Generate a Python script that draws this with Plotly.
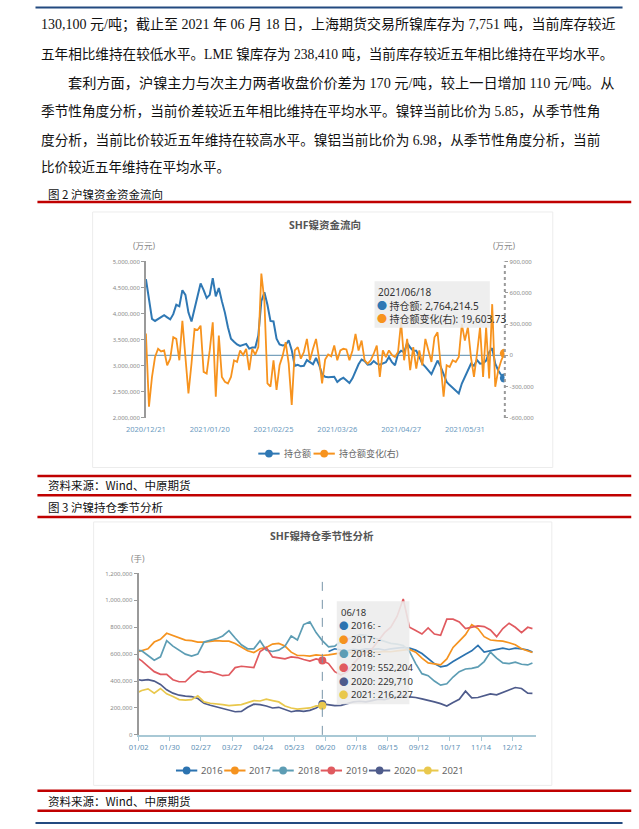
import plotly.graph_objects as go
import pandas as pd

W, H = 639, 829
def PX(x): return x / W
def PY(y): return 1 - y / H

# ---------------- 图2 data: SHF镍资金流向 (万元) ----------------
holidays_2021 = ["2021-01-01", "2021-02-11", "2021-02-12", "2021-02-15", "2021-02-16",
                 "2021-02-17", "2021-04-05", "2021-05-03", "2021-05-04", "2021-05-05", "2021-06-14"]
trade_dates = [d.strftime("%Y/%m/%d") for d in pd.bdate_range("2020-12-21", "2021-06-18")
               if d.strftime("%Y-%m-%d") not in holidays_2021]

hold_amount = [  # 持仓额
    4.66e6, 4.24e6, 3.90e6, 3.86e6, 3.90e6, 3.93e6, 3.97e6, 3.93e6, 3.89e6, 3.99e6,
    4.17e6, 4.14e6, 4.45e6, 4.36e6, 4.02e6, 3.85e6, 4.08e6, 4.36e6, 4.58e6, 4.45e6,
    4.30e6, 4.36e6, 4.68e6, 4.33e6, 4.49e6, 4.24e6, 4.02e6, 3.74e6, 3.52e6, 3.46e6,
    3.41e6, 3.38e6, 3.40e6, 3.42e6, 3.33e6, 3.35e6, 3.35e6, 3.58e6, 4.24e6, 4.41e6,
    4.17e6, 3.86e6, 3.85e6, 3.52e6, 3.41e6, 3.39e6, 3.40e6, 3.49e6, 3.30e6, 3.00e6,
    3.02e6, 2.99e6, 3.00e6, 3.11e6, 3.07e6, 3.03e6, 3.15e6, 3.02e6, 2.84e6, 2.79e6,
    2.78e6, 2.78e6, 2.79e6, 2.69e6, 2.74e6, 2.77e6, 2.72e6, 2.67e6, 2.76e6, 2.91e6,
    3.03e6, 3.12e6, 3.09e6, 3.02e6, 3.03e6, 3.09e6, 3.04e6, 3.02e6, 3.04e6, 3.07e6,
    3.17e6, 3.07e6, 3.01e6, 3.23e6, 3.29e6, 3.26e6, 3.44e6, 3.35e6, 3.29e6, 3.29e6,
    3.17e6, 3.04e6, 2.98e6, 2.90e6, 2.84e6, 2.97e6, 3.10e6, 2.99e6, 2.82e6, 2.69e6,
    2.63e6, 2.57e6, 2.52e6, 2.47e6, 2.66e6, 2.79e6, 2.91e6, 3.04e6, 3.00e6, 3.11e6,
    3.04e6, 3.05e6, 3.10e6, 3.26e6, 3.34e6, 3.04e6, 2.91e6, 2.82e6, 2764214.5]

hold_change = [  # 持仓额变化(右)
    209e3, -491e3, -206e3, -16e3, 63e3, 38e3, 47e3, -95e3, -32e3, 174e3, 158e3, -47e3,
    332e3, -47e3, -364e3, -79e3, 253e3, 243e3, 285e3, -158e3, -174e3, 47e3, 316e3, -396e3,
    190e3, -206e3, -253e3, -269e3, -206e3, -47e3, -63e3, 47e3, 4e3, 63e3, -142e3, 63e3,
    6e3, 79e3, 785e3, 522e3, -269e3, -300e3, -47e3, -332e3, -95e3, -5e3, 127e3, -79e3,
    -475e3, 47e3, 79e3, -32e3, 32e3, 158e3, -47e3, 63e3, 158e3, -32e3, -269e3, -40e3,
    9e3, -9e3, 95e3, -47e3, 47e3, 63e3, 57e3, -47e3, 47e3, 206e3, 47e3, 142e3,
    -47e3, -79e3, -47e3, 16e3, 95e3, -206e3, 47e3, -16e3, 47e3, 3e3, -16e3, 32e3,
    316e3, -47e3, 158e3, -142e3, 79e3, -127e3, 47e3, -95e3, 158e3, 47e3, -63e3, 174e3,
    222e3, -79e3, -396e3, -95e3, -111e3, -47e3, -63e3, -16e3, 300e3, 142e3, 269e3, -16e3,
    -206e3, 16e3, 269e3, -206e3, 269e3, -222e3, 491e3, -301e3, -142e3, -47e3, 19603.73]

# ---------------- 图3 data: SHF镍持仓季节性分析 (手) ----------------
season_ticks = ["01/02", "01/30", "02/27", "03/27", "04/24", "05/23", "06/20",
                "07/18", "08/15", "09/12", "10/17", "11/14", "12/12"]
day_idx = [0] + [2 + 4 * k for k in range(63)] + [253]   # trading-day index within year
day_idx_2016 = day_idx[31:]
day_idx_2021 = day_idx[:31]
hover_pos = 30   # position of 06/18 in day_idx

s2016 = [620e3, 640e3, 630e3, 625e3, 635e3, 630e3, 640e3, 635e3, 640e3, 630e3,
         640e3, 645e3, 650e3, 645e3, 630e3, 605e3, 565e3, 530e3, 505e3, 515e3,
         545e3, 575e3, 600e3, 625e3, 665e3, 615e3, 625e3, 630e3, 645e3, 635e3,
         645e3, 640e3, 630e3, 615e3]
s2017 = [620e3,
         625e3, 640e3, 690e3, 710e3, 755e3, 740e3, 725e3, 705e3, 700e3, 690e3,
         690e3, 695e3, 700e3, 697e3, 697e3, 680e3, 650e3, 625e3, 612e3, 640e3,
         650e3, 675e3, 680e3, 660e3, 615e3, 590e3, 590e3, 585e3, 595e3, 590e3,
         595e3, 605e3, 610e3, 615e3, 610e3, 615e3, 612e3, 618e3, 615e3, 620e3,
         618e3, 625e3, 630e3, 635e3, 615e3, 570e3, 535e3, 525e3, 520e3, 565e3,
         650e3, 697e3, 745e3, 820e3, 790e3, 730e3, 705e3, 700e3, 697e3, 685e3,
         670e3, 640e3, 625e3, 612e3]
s2018 = [628e3,
         625e3, 590e3, 555e3, 580e3, 700e3, 660e3, 630e3, 600e3, 585e3, 600e3,
         690e3, 700e3, 715e3, 735e3, 775e3, 720e3, 670e3, 640e3, 640e3, 700e3,
         630e3, 620e3, 630e3, 660e3, 735e3, 705e3, 820e3, 840e3, 760e3, 700e3,
         655e3, 660e3, 695e3, 710e3, 730e3, 745e3, 740e3, 725e3, 705e3, 690e3,
         680e3, 675e3, 665e3, 620e3, 530e3, 455e3, 440e3, 400e3, 370e3, 380e3,
         430e3, 470e3, 490e3, 495e3, 505e3, 545e3, 615e3, 570e3, 535e3, 530e3,
         540e3, 525e3, 520e3, 535e3]
s2019 = [565e3,
         550e3, 510e3, 470e3, 450e3, 450e3, 410e3, 395e3, 395e3, 440e3, 476e3,
         465e3, 470e3, 455e3, 440e3, 445e3, 500e3, 510e3, 505e3, 500e3, 620e3,
         650e3, 580e3, 570e3, 565e3, 580e3, 575e3, 560e3, 548e3, 565e3, 552204,
         530e3, 470e3, 445e3, 470e3, 530e3, 580e3, 615e3, 640e3, 700e3, 760e3,
         800e3, 880e3, 1010e3, 800e3, 775e3, 750e3, 795e3, 750e3, 740e3, 860e3,
         860e3, 840e3, 790e3, 800e3, 810e3, 805e3, 780e3, 730e3, 790e3, 830e3,
         800e3, 760e3, 800e3, 790e3]
s2020 = [410e3,
         405e3, 410e3, 400e3, 375e3, 335e3, 310e3, 295e3, 288e3, 285e3, 270e3,
         235e3, 220e3, 208e3, 198e3, 188e3, 172e3, 175e3, 205e3, 228e3, 225e3,
         215e3, 200e3, 205e3, 190e3, 172e3, 180e3, 175e3, 182e3, 200e3, 229710,
         222e3, 218e3, 220e3, 235e3, 245e3, 250e3, 245e3, 255e3, 265e3, 262e3,
         275e3, 280e3, 292e3, 282e3, 278e3, 268e3, 258e3, 245e3, 232e3, 215e3,
         240e3, 265e3, 325e3, 275e3, 278e3, 290e3, 305e3, 298e3, 315e3, 330e3,
         352e3, 345e3, 310e3, 308e3]
s2021 = [318e3,
         330e3, 342e3, 310e3, 345e3, 305e3, 285e3, 262e3, 258e3, 262e3, 290e3,
         245e3, 235e3, 232e3, 225e3, 218e3, 222e3, 225e3, 240e3, 255e3, 252e3,
         265e3, 255e3, 245e3, 215e3, 200e3, 192e3, 195e3, 200e3, 215e3, 216227]

years = ["2016", "2017", "2018", "2019", "2020", "2021"]
season_x = [day_idx_2016, day_idx, day_idx, day_idx, day_idx, day_idx_2021]
season_y = [s2016, s2017, s2018, s2019, s2020, s2021]
year_colors = ["#2c73b0", "#f5931f", "#5d9db4", "#e05a5f", "#4e5b8b", "#e9c84d"]

C_BLUE, C_ORANGE = "#2f78b4", "#f7931e"
FONT = "Noto Sans, Noto Sans CJK SC, sans-serif"
BODY_FONT = "Liberation Serif, Noto Sans CJK SC, serif"
CJK = "Noto Sans CJK SC"

fig = go.Figure()

# chart 1 traces
fig.add_trace(go.Scatter(x=trade_dates, y=hold_amount, mode="lines", name="持仓额",
                         line=dict(color=C_BLUE, width=2), xaxis="x", yaxis="y",
                         showlegend=False, hoverinfo="skip"))
fig.add_trace(go.Scatter(x=trade_dates, y=hold_change, mode="lines", name="持仓额变化(右)",
                         line=dict(color=C_ORANGE, width=1.8), xaxis="x", yaxis="y2",
                         showlegend=False, hoverinfo="skip"))
fig.add_trace(go.Scatter(x=[trade_dates[-1]], y=[hold_amount[-1]], mode="markers",
                         marker=dict(color=C_BLUE, size=9), xaxis="x", yaxis="y",
                         showlegend=False, hoverinfo="skip"))
fig.add_trace(go.Scatter(x=[trade_dates[-1]], y=[hold_change[-1]], mode="markers",
                         marker=dict(color=C_ORANGE, size=9), xaxis="x", yaxis="y2",
                         showlegend=False, hoverinfo="skip"))

# chart 2 traces
for yr, xs, ys, col in zip(years, season_x, season_y, year_colors):
    fig.add_trace(go.Scatter(x=xs, y=ys, mode="lines", name=yr,
                             line=dict(color=col, width=1.7), xaxis="x2", yaxis="y3",
                             showlegend=False, hoverinfo="skip"))
for yr, xs, ys, col in zip(years, season_x, season_y, year_colors):
    if hover_pos < len(xs) and xs[hover_pos] == day_idx[hover_pos] and yr in ("2019", "2020", "2021"):
        fig.add_trace(go.Scatter(x=[xs[hover_pos]], y=[ys[hover_pos]], mode="markers",
                                 marker=dict(color=col, size=8), xaxis="x2", yaxis="y3",
                                 showlegend=False, hoverinfo="skip"))

shapes = []
ann = []

def hline(y, x0, x1, color, width):
    shapes.append(dict(type="line", xref="paper", yref="paper", x0=PX(x0), x1=PX(x1),
                       y0=PY(y), y1=PY(y), line=dict(color=color, width=width), layer="above"))

def rect(x0, y0, x1, y1, fill, line_color=None, layer="below"):
    shapes.append(dict(type="rect", xref="paper", yref="paper", x0=PX(x0), x1=PX(x1),
                       y0=PY(y1), y1=PY(y0), fillcolor=fill,
                       line=dict(color=line_color or "rgba(0,0,0,0)", width=1 if line_color else 0),
                       layer=layer))

def text(x, y, s, size, color="#222", family=FONT, xanchor="left"):
    ann.append(dict(x=PX(x), y=PY(y), xref="paper", yref="paper", text=s, showarrow=False,
                    xanchor=xanchor, yanchor="middle", font=dict(size=size, color=color, family=family)))

def legend_item(cx, cy, color, label, size):
    shapes.append(dict(type="line", xref="paper", yref="paper", x0=PX(cx - 11), x1=PX(cx + 11),
                       y0=PY(cy), y1=PY(cy), line=dict(color=color, width=2)))
    shapes.append(dict(type="circle", xref="paper", yref="paper", x0=PX(cx - 4), x1=PX(cx + 4),
                       y0=PY(cy + 4), y1=PY(cy - 4), fillcolor=color, line=dict(color=color, width=0)))
    text(cx + 13, cy, label, size, "#666")

# page rules
hline(3.5, 16, 622, "#234a80", 2)
for yy in (200, 476.5, 496, 518, 794.5, 814.5):
    hline(yy, 18, 631, "#c00000", 2.5)
hline(827, 16, 622, "#234a80", 2)

# body text
body = [
    (19.5, 20.7, "130,100 元/吨；截止至 2021 年 06 月 18 日，上海期货交易所镍库存为 7,751 吨，当前库存较近", 14.0),
    (19.5, 50.0, "五年相比维持在较低水平。LME 镍库存为 238,410 吨，当前库存较近五年相比维持在平均水平。", 13.6),
    (47.0, 79.5, "套利方面，沪镍主力与次主力两者收盘价价差为 170 元/吨，较上一日增加 110 元/吨。从", 14.2),
    (19.5, 108.0, "季节性角度分析，当前价差较近五年相比维持在平均水平。镍锌当前比价为 5.85，从季节性角", 13.65),
    (19.5, 137.0, "度分析，当前比价较近五年维持在较高水平。镍铝当前比价为 6.98，从季节性角度分析，当前", 13.65),
    (19.5, 165.5, "比价较近五年维持在平均水平。", 13.5),
]
for x, y, s, sz in body:
    text(x, y, s, sz, "#111", BODY_FONT)

text(27, 191.5, "图 2 沪镍资金资金流向", 11.5, "#111", CJK)
text(27, 486, "资料来源：Wind、中原期货", 11.5, "#111", CJK)
text(27, 507.5, "图 3 沪镍持仓季节分析", 11.5, "#111", CJK)
text(27, 804.5, "资料来源：Wind、中原期货", 11.5, "#111", CJK)

# chart boxes
rect(75, 210, 550, 468, "white", "#ececec")
rect(76, 523, 549, 789, "white", "#ececec")

# chart 1 decorations
text(315, 223, "<b>SHF镍资金流向</b>", 10.5, "#555", FONT, "center")
text(129, 244, "(万元)", 8.5, "#888", FONT, "center")
text(500, 244, "(万元)", 8.5, "#888", FONT, "center")
shapes.append(dict(type="line", xref="paper", yref="paper", x0=PX(500.5), x1=PX(500.5),
                   y0=PY(418), y1=PY(260), line=dict(color="#9a9a9a", width=2, dash="dot"), layer="above"))
shapes.append(dict(type="line", xref="x domain", yref="y2", x0=0, x1=1, y0=0, y1=0,
                   line=dict(color="#7aa2bd", width=1.2), layer="below"))
legend_item(257, 454, C_BLUE, "持仓额", 9)
legend_item(314, 454, C_ORANGE, "持仓额变化(右)", 9)

# chart 1 tooltip
rect(366, 280, 485, 327, "rgba(236,236,236,0.88)", None, "above")
text(368, 291, trade_dates[-1], 10, "#333")
text(366, 304.5, f"<span style='color:{C_BLUE}'>●</span> 持仓额: {hold_amount[-1]:,.1f}", 10, "#333")
text(366, 318, f"<span style='color:{C_ORANGE}'>●</span> 持仓额变化(右): {hold_change[-1]:,.2f}", 10, "#333")

# chart 2 decorations
text(312, 537, "<b>SHF镍持仓季节性分析</b>", 10.5, "#555", FONT, "center")
text(122, 560, "(手)", 8.5, "#888", FONT, "center")
shapes.append(dict(type="line", xref="x2", yref="y3", x0=day_idx[hover_pos], x1=day_idx[hover_pos],
                   y0=0, y1=1.2e6, line=dict(color="#7895a8", width=1, dash="dash"), layer="above"))
for i, (yr, col) in enumerate(zip(years, year_colors)):
    legend_item(172 + 49.8 * i, 774, col, yr, 9.5)

# chart 2 tooltip
rect(327, 603, 402, 707, "rgba(236,236,236,0.88)", None, "above")
text(329, 614, trade_dates[-1][5:], 9.5, "#333")
for i, (yr, xs, ys, col) in enumerate(zip(years, season_x, season_y, year_colors)):
    if yr in ("2019", "2020", "2021") and xs[hover_pos] == day_idx[hover_pos]:
        v = f"{round(ys[hover_pos]):,}"
    else:
        v = "-"
    text(327, 628 + 13.9 * i, f"<span style='color:{col}'>●</span> {yr}: {v}", 9.5, "#333")

fig.update_layout(
    width=W, height=829, margin=dict(l=0, r=0, t=0, b=0),
    paper_bgcolor="white", plot_bgcolor="rgba(0,0,0,0)",
    font=dict(family=FONT),
    showlegend=False,
    xaxis=dict(domain=[PX(130), PX(500)], anchor="y", type="category",
               range=[0, len(trade_dates) - 1], tickvals=trade_dates[::21],
               ticks="", showline=False, showgrid=False, zeroline=False,
               ticklabelstandoff=6,
               tickfont=dict(size=7.5, color="#6a9ac0")),
    yaxis=dict(domain=[PY(418), PY(260)], anchor="x", range=[2e6, 5e6],
               tickvals=[2e6, 2.5e6, 3e6, 3.5e6, 4e6, 4.5e6, 5e6], tickformat=",d",
               showline=True, linecolor="#9a9a9a", linewidth=1.5, ticks="outside",
               ticklen=3, tickcolor="#9a9a9a", showgrid=False, zeroline=False,
               tickfont=dict(size=6, color="#8a8a8a")),
    yaxis2=dict(overlaying="y", side="right", anchor="x", range=[-6e5, 9e5],
                tickvals=[-6e5, -3e5, 0, 3e5, 6e5, 9e5],
                ticktext=["-600,000", "-300,000", "0", "300,000", "600,000", "900,000"],
                showline=False, ticks="outside", ticklen=3, tickcolor="#9a9a9a",
                showgrid=False, zeroline=False, tickfont=dict(size=6, color="#8a8a8a")),
    xaxis2=dict(domain=[PX(122.5), PX(533)], anchor="y3", range=[0, 255.5],
                tickvals=[20 * i for i in range(len(season_ticks))], ticktext=season_ticks,
                showline=True, linecolor="#a8c8d5", linewidth=2, ticks="outside", ticklen=4,
                tickcolor="#a8c8d5", showgrid=False, zeroline=False,
                tickfont=dict(size=7.5, color="#5e90b5")),
    yaxis3=dict(domain=[PY(738), PY(575)], anchor="x2", range=[0, 1.2e6],
                tickvals=[0, 2e5, 4e5, 6e5, 8e5, 1e6, 1.2e6], tickformat=",d",
                showline=True, linecolor="#9a9a9a", linewidth=2, ticks="outside", ticklen=3,
                tickcolor="#9a9a9a", showgrid=False, zeroline=False,
                tickfont=dict(size=6, color="#8a8a8a")),
    shapes=shapes, annotations=ann,
)

fig.write_html("out.html")
